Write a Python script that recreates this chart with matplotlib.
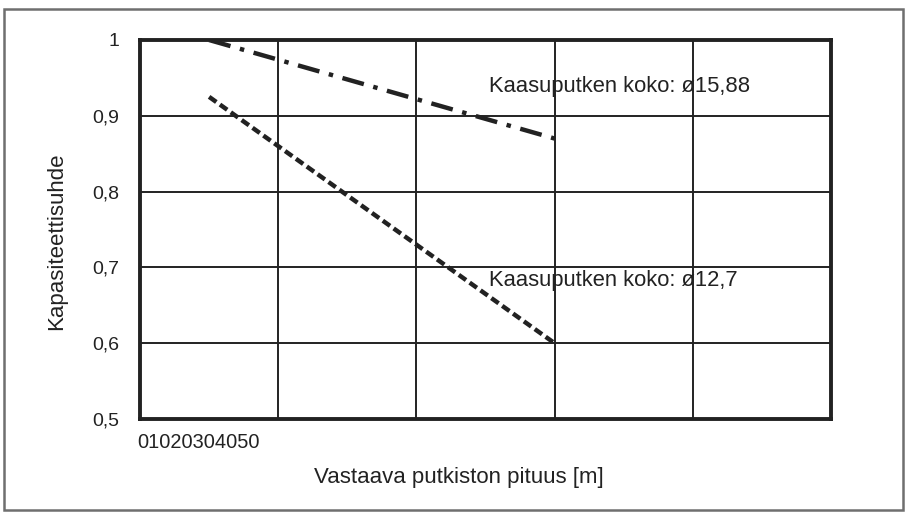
import matplotlib
matplotlib.use('Agg')
import matplotlib.pyplot as plt
from matplotlib.patches import Rectangle

plt.rcParams['font.family'] = ['Liberation Sans', 'DejaVu Sans']

# data
length_m = [5, 30]
ratio_1588 = [1.0, 0.87]
ratio_127 = [0.925, 0.6]
y_ticks = [0.5, 0.6, 0.7, 0.8, 0.9, 1.0]
y_labels = ['0,5', '0,6', '0,7', '0,8', '0,9', '1']
x_grid = [10, 20, 30, 40]
x_tick_text = '01020304050'
label_1588 = 'Kaasuputken koko: ø15,88'
label_127 = 'Kaasuputken koko: ø12,7'

W, H = 910, 515
fig = plt.figure(figsize=(W / 100, H / 100), dpi=100)

# grey outer frame
fig.patches.append(Rectangle((4 / W, 1 - 510 / H), 899 / W, 501 / H,
                             transform=fig.transFigure, fill=False,
                             edgecolor='#6f6f6f', linewidth=1.8))

ax = fig.add_axes([140 / W, 1 - 419 / H, 691 / W, 379 / H])
ax.set_xlim(0, 50)
ax.set_ylim(0.5, 1.0)

ink = '#222222'
for v in x_grid:
    ax.axvline(v, color=ink, lw=1.4, zorder=1)
for v in y_ticks[1:-1]:
    ax.axhline(v, color=ink, lw=1.4, zorder=1)

ax.plot(length_m, ratio_1588, color=ink, lw=3.2,
        dashes=(5.0, 2.2, 1.0, 2.2), zorder=3)
ax.plot(length_m, ratio_127, color=ink, lw=3.2,
        dashes=(2.0, 1.0), zorder=3)

ax.text(25.25, 0.938, label_1588, fontsize=15.8, color=ink, va='center', ha='left')
ax.text(25.25, 0.683, label_127, fontsize=15.8, color=ink, va='center', ha='left')

ax.set_xticks([])
ax.set_yticks(y_ticks)
ax.set_yticklabels(y_labels, fontsize=14, color=ink)
ax.tick_params(axis='y', length=0, pad=15)
for sp in ax.spines.values():
    sp.set_linewidth(2.8)
    sp.set_color(ink)

fig.text(137 / W, 1 - 443 / H, x_tick_text, fontsize=14.4, color=ink,
         ha='left', va='center')
fig.text(459 / W, 1 - 477 / H, 'Vastaava putkiston pituus [m]', fontsize=16,
         color=ink, ha='center', va='center')
fig.text(57 / W, 1 - 241 / H, 'Kapasiteettisuhde', fontsize=16, color=ink,
         rotation=90, ha='center', va='center')

fig.savefig('out.png', dpi=100, facecolor='white')
